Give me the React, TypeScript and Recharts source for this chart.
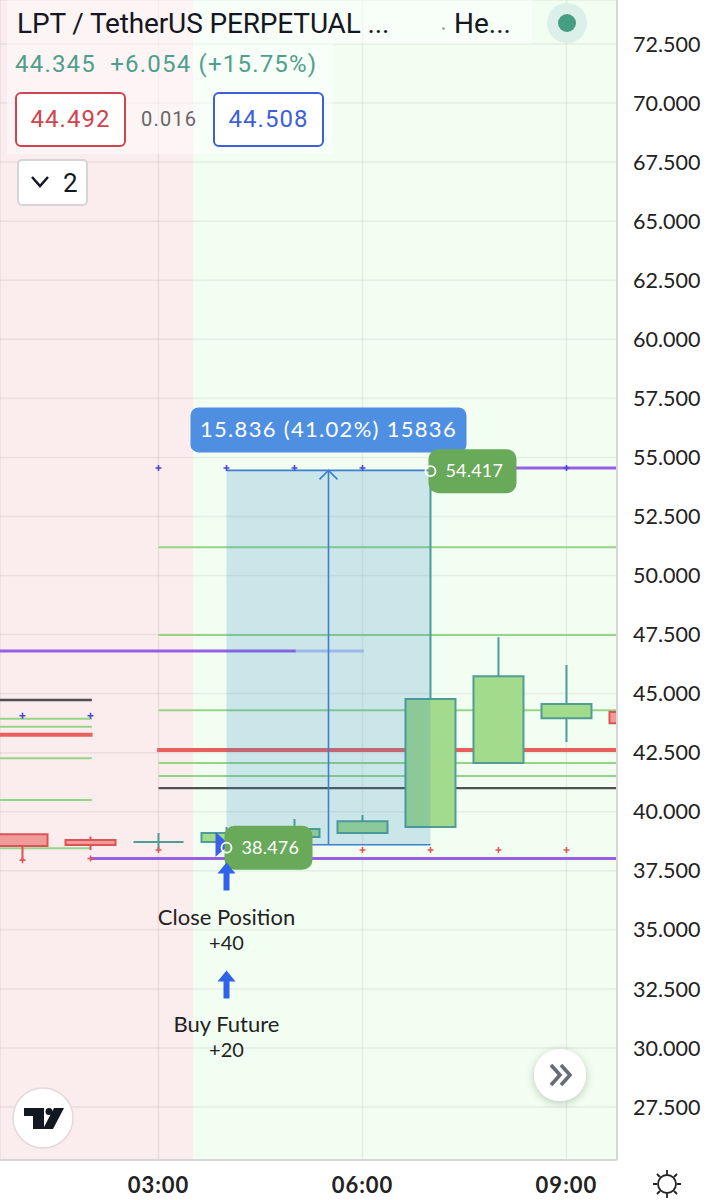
import * as React from "react";
import {
  Bar,
  CartesianGrid,
  ComposedChart,
  ReferenceArea,
  ReferenceDot,
  ReferenceLine,
  Scatter,
  XAxis,
  YAxis,
} from "recharts";

const FONT = "Lato, 'Open Sans', sans-serif";

// candles, one per hour on the time axis
const HOURS = [1, 2, 3, 4, 5, 6, 7, 8, 9, 10];
const OPENS = [39.05, 38.8, 38.72, 38.72, 38.93, 39.1, 39.35, 42.06, 43.96, 44.22];
const CLOSES = [38.55, 38.59, 38.72, 39.1, 39.27, 39.6, 44.77, 45.74, 44.56, 43.75];
const HIGHS = [39.05, 38.95, 39.1, 39.35, 39.69, 39.86, 54.46, 47.39, 46.21, 44.22];
const LOWS = [37.95, 38.38, 38.38, 38.72, 38.93, 39.1, 39.35, 42.06, 42.95, 43.75];

const X_TICKS = [3, 6, 9];
const Y_TICKS = [
  27.5, 30, 32.5, 35, 37.5, 40, 42.5, 45, 47.5, 50, 52.5, 55, 57.5, 60, 62.5, 65, 67.5, 70, 72.5,
];

// levels: [from hour, to hour, price]
const X_MIN = 0.669;
const X_MAX = 9.743;
const Y_MIN = 25.256;
const Y_MAX = 74.363;
const GREEN_LEVELS = [
  [3, X_MAX, 51.2],
  [3, X_MAX, 47.48],
  [3, X_MAX, 44.3],
  [3, X_MAX, 42.06],
  [3, X_MAX, 41.51],
  [X_MIN, 2.02, 43.94],
  [X_MIN, 2.02, 43.6],
  [X_MIN, 2.02, 42.26],
  [X_MIN, 2.02, 40.5],
  [X_MIN, 2, 38.45],
];
const RED_LEVELS = [
  [2.98, X_MAX, 42.61],
  [X_MIN, 2.03, 43.26],
];
const DARK_LEVELS = [
  [3, X_MAX, 41.0],
  [X_MIN, 2.02, 44.73],
];
const PURPLE_LEVELS = [
  [X_MIN, 5.02, 46.8],
  [7, X_MAX, 54.55],
  [2, X_MAX, 38.02],
];
const FADED_LEVELS = [[5.02, 6.02, 46.8]];

const BLUE_MARKS = [
  [1, 44.06],
  [2, 44.06],
  [3, 54.55],
  [4, 54.55],
  [5, 54.55],
  [6, 54.55],
  [9, 54.55],
];
const RED_MARKS = [
  [1, 37.95],
  [2, 38.02],
  [3, 38.38],
  [6, 38.38],
  [7, 38.38],
  [8, 38.38],
  [9, 38.38],
];

// measured move
const MEASURE_FROM = 4;
const MEASURE_TO = 7;
const MEASURE_LOW = 38.6;
const MEASURE_HIGH = 54.45;
const MEASURE_MID = 5.5;
const ENTRY_PRICE = 38.476;
const EXIT_PRICE = 54.417;
const SESSION_SPLIT = 3.507;

const candleRows = HOURS.map((hour, i) => ({
  hour,
  range: [LOWS[i], HIGHS[i]],
  open: OPENS[i],
  close: CLOSES[i],
}));
const toMarks = (marks: number[][]) => marks.map(([hour, price]) => ({ hour, price }));

function Candle(props: any) {
  const { x, y, width, height, payload } = props;
  const { open, close, range } = payload;
  const up = close >= open;
  const stroke = up ? "#4f9d94" : "#dd5257";
  const fill = up ? "#a3db8d" : "#f09a9a";
  const span = range[1] - range[0];
  const perUnit = span > 0 ? Math.abs(height) / span : 0;
  const top = Math.min(y, y + height);
  const bodyTop = top + (range[1] - Math.max(open, close)) * perUnit;
  const bodyBottom = top + (range[1] - Math.min(open, close)) * perUnit;
  const mid = x + width / 2;
  return (
    <g>
      <line x1={mid} x2={mid} y1={top} y2={top + Math.abs(height)} stroke={stroke} strokeWidth={2} />
      {/* a path and not a rect, so a flat candle still shows its line */}
      <path
        d={`M${x + 1} ${bodyTop}H${x + width - 1}V${bodyBottom}H${x + 1}Z`}
        fill={fill}
        stroke={stroke}
        strokeWidth={2}
      />
    </g>
  );
}

const plusMark = (color: string) => (props: any) => {
  const { cx, cy } = props;
  return (
    <path
      d={`M${cx - 3} ${cy}H${cx + 3}M${cx} ${cy - 3}V${cy + 3}`}
      stroke={color}
      strokeWidth={1.6}
      fill="none"
    />
  );
};

const levelLines = (levels: number[][], color: string, width: number, z: number) =>
  levels.map(([from, to, price]) => (
    <ReferenceLine
      key={`${color}-${from}-${price}`}
      segment={[
        { x: from, y: price },
        { x: to, y: price },
      ]}
      stroke={color}
      strokeWidth={width}
      ifOverflow="hidden"
      zIndex={z}
    />
  ));

const pricePill = (text: string) => (props: any) => {
  const { cx, cy } = props;
  return (
    <g>
      <rect x={cx - 2} y={cy - 22} width={88} height={44} rx={10} fill="#68aa59" />
      <circle cx={cx} cy={cy} r={5} fill="none" stroke="#fff" strokeWidth={1.8} />
      <text x={cx + 15} y={cy + 6} fill="#fff" fontSize={18} fontFamily={FONT} letterSpacing={0.2}>
        {text}
      </text>
    </g>
  );
};

const moveLabel = (props: any) => {
  const { cx, cy } = props;
  return (
    <g>
      <rect x={cx - 138} y={cy - 63} width={276} height={45} rx={8} fill="#4f8fe2" />
      <text x={cx} y={cy - 33} fill="#fff" fontSize={22} fontFamily={FONT} textAnchor="middle" letterSpacing={1.3}>
        15.836 (41.02%) 15836
      </text>
    </g>
  );
};

const moveArrowHead = (props: any) => {
  const { cx, cy } = props;
  return (
    <path
      d={`M${cx - 9} ${cy + 9}L${cx} ${cy}L${cx + 9} ${cy + 9}`}
      stroke="#3f7fd0"
      strokeWidth={1.6}
      fill="none"
    />
  );
};

const entryFlag = (props: any) => {
  const { cx, cy } = props;
  return <path d={`M${cx - 11} ${cy - 13}L${cx + 3} ${cy}L${cx - 11} ${cy + 12}Z`} fill="#3b5fe6" />;
};

const tradeNote = (title: string, amount: string) => (props: any) => {
  const { cx, cy } = props;
  return (
    <g fontFamily={FONT} fill="#222" textAnchor="middle">
      <path d={`M${cx} ${cy}l-9 11h6v17h6v-17h6z`} fill="#2f63e8" />
      <text x={cx} y={cy + 62} fontSize={22}>
        {title}
      </text>
      <text x={cx} y={cy + 87} fontSize={20}>
        {amount}
      </text>
    </g>
  );
};

function Header() {
  const box = (left: number, color: string): React.CSSProperties => ({
    position: "absolute",
    left,
    top: 92,
    width: 111,
    height: 55,
    boxSizing: "border-box",
    border: `2px solid ${color}`,
    borderRadius: 6,
    background: "#fff",
    color,
    fontSize: 24,
    letterSpacing: 1,
    lineHeight: "51px",
    textAlign: "center",
  });
  const veil: React.CSSProperties = { position: "absolute", background: "rgba(255,255,255,0.45)" };
  return (
    <div style={{ position: "absolute", left: 0, top: 0, fontFamily: "Roboto, sans-serif" }}>
      <div style={{ ...veil, left: 7, top: 0, width: 525, height: 44 }} />
      <div style={{ ...veil, left: 7, top: 44, width: 326, height: 110 }} />
      <div style={{ position: "absolute", left: 17, top: 6, fontSize: 28, color: "#131722", whiteSpace: "nowrap", lineHeight: "36px", letterSpacing: -0.15 }}>
        LPT / TetherUS PERPETUAL ...
      </div>
      <div style={{ position: "absolute", left: 442, top: 27, width: 3, height: 3, borderRadius: 2, background: "#aaa" }} />
      <div style={{ position: "absolute", left: 454, top: 6, fontSize: 28, color: "#131722", whiteSpace: "nowrap", lineHeight: "36px" }}>
        He...
      </div>
      <div style={{ position: "absolute", left: 547, top: 3, width: 40, height: 40, borderRadius: "50%", background: "#dcefe8" }} />
      <div style={{ position: "absolute", left: 558, top: 14, width: 18, height: 18, borderRadius: "50%", background: "#459d82" }} />
      <div style={{ position: "absolute", left: 15, top: 49, fontSize: 24, color: "#4f9f8c", whiteSpace: "nowrap", lineHeight: "30px", letterSpacing: 1.2 }}>
        44.345&nbsp; +6.054 (+15.75%)
      </div>
      <div style={box(15, "#d0434f")}>44.492</div>
      <div style={{ position: "absolute", left: 141, top: 106, fontSize: 20, color: "#666", lineHeight: "26px", letterSpacing: 1.2 }}>0.016</div>
      <div style={box(213, "#3d5fd9")}>44.508</div>
      <div style={{ position: "absolute", left: 17, top: 159, width: 71, height: 47, boxSizing: "border-box", border: "2px solid #d4d4da", borderRadius: 5, background: "#fff" }}>
        <svg width={26} height={20} style={{ position: "absolute", left: 10, top: 12 }}>
          <path d="M3 4L11 13L19 4" stroke="#131722" strokeWidth={2.5} fill="none" />
        </svg>
        <span style={{ position: "absolute", left: 44, top: 7, fontSize: 26, lineHeight: "30px", color: "#131722" }}>2</span>
      </div>
    </div>
  );
}

function Overlays() {
  return (
    <svg width={719} height={1200} style={{ position: "absolute", left: 0, top: 0, pointerEvents: "none" }}>
      <defs>
        <filter id="btnShadow" x="-50%" y="-50%" width="200%" height="200%">
          <feDropShadow dx={0} dy={2} stdDeviation={4} floodColor="#000" floodOpacity={0.22} />
        </filter>
      </defs>
      <circle cx={560} cy={1075} r={26} fill="#fff" filter="url(#btnShadow)" />
      <path d="M551 1065l9 10l-9 10M561 1065l9 10l-9 10" stroke="#666b75" strokeWidth={3.6} fill="none" />
      <circle cx={43} cy={1118} r={30} fill="#fff" stroke="#e4d8da" strokeWidth={1.5} />
      <path d="M24 1108h20v21h-11v-13h-9z" fill="#131722" />
      <circle cx={49} cy={1111.5} r={3.5} fill="#131722" />
      <path d="M54 1108h10l-11 21h-10z" fill="#131722" />
      <g stroke="#222" strokeWidth={1.8} fill="none">
        <circle cx={667} cy={1184} r={9} />
        <path d="M667 1170v4M667 1194v4M653 1184h4M677 1184h4M657 1174l3 3M677 1174l-3 3M657 1194l3-3M677 1194l-3-3" />
      </g>
    </svg>
  );
}

export default function App() {
  const measureLine = { stroke: "#3f7fd0", strokeWidth: 1.6, zIndex: 450 };
  return (
    <div style={{ position: "absolute", left: 0, top: 0, width: 719, height: 1200, overflow: "hidden", background: "#fff" }}>
      <ComposedChart width={719} height={1200} data={candleRows} margin={{ top: 0, right: 0, bottom: 0, left: 0 }}>
        <ReferenceArea x1={X_MIN} x2={SESSION_SPLIT} y1={Y_MIN} y2={Y_MAX} fill="#fbeced" fillOpacity={1} stroke="none" ifOverflow="hidden" zIndex={-300} />
        <ReferenceArea x1={SESSION_SPLIT} x2={X_MAX} y1={Y_MIN} y2={Y_MAX} fill="#f2fef2" fillOpacity={1} stroke="none" ifOverflow="hidden" zIndex={-300} />
        <CartesianGrid stroke="rgba(60,70,70,0.08)" strokeWidth={1.5} />
        <XAxis
          type="number"
          dataKey="hour"
          domain={[X_MIN, X_MAX]}
          allowDataOverflow
          ticks={X_TICKS}
          height={40}
          tickLine={false}
          axisLine={{ stroke: "#d6d6d6", strokeWidth: 2 }}
          tickMargin={11}
          tick={{ fontSize: 22, fontWeight: 700, fill: "#222", fontFamily: FONT, letterSpacing: 1 }}
          tickFormatter={(h: number) => `0${h}:00`}
        />
        <YAxis
          type="number"
          orientation="right"
          domain={[Y_MIN, Y_MAX]}
          allowDataOverflow
          ticks={Y_TICKS}
          width={102}
          tickLine={false}
          axisLine={{ stroke: "#d6d6d6", strokeWidth: 2 }}
          tickMargin={10}
          tick={{ fontSize: 21.5, fill: "#222", fontFamily: FONT, textAnchor: "start" }}
          tickFormatter={(v: number) => v.toFixed(3)}
        />
        {levelLines(GREEN_LEVELS, "#94d685", 2, 100)}
        {levelLines(DARK_LEVELS, "#505050", 2.4, 100)}
        {levelLines(RED_LEVELS, "#e8605c", 4, 100)}
        {levelLines(PURPLE_LEVELS, "#9560e4", 3, 100)}
        {levelLines(FADED_LEVELS, "#9db6ec", 3, 400)}
        <Scatter data={toMarks(BLUE_MARKS)} dataKey="price" shape={plusMark("#4b44d6")} isAnimationActive={false} />
        <Scatter data={toMarks(RED_MARKS)} dataKey="price" shape={plusMark("#e05555")} isAnimationActive={false} />
        <Bar dataKey="range" barSize={52} shape={<Candle />} isAnimationActive={false} />
        <ReferenceArea
          x1={MEASURE_FROM}
          x2={MEASURE_TO}
          y1={MEASURE_LOW}
          y2={MEASURE_HIGH}
          fill="#2b85c9"
          fillOpacity={0.2}
          stroke="none"
          zIndex={350}
        />
        <ReferenceLine segment={[{ x: MEASURE_FROM, y: MEASURE_HIGH }, { x: MEASURE_TO, y: MEASURE_HIGH }]} {...measureLine} />
        <ReferenceLine segment={[{ x: MEASURE_FROM, y: MEASURE_LOW }, { x: MEASURE_TO, y: MEASURE_LOW }]} {...measureLine} />
        <ReferenceLine segment={[{ x: MEASURE_MID, y: MEASURE_LOW }, { x: MEASURE_MID, y: MEASURE_HIGH }]} {...measureLine} />
        <ReferenceDot x={MEASURE_MID} y={MEASURE_HIGH} r={0} shape={moveArrowHead} zIndex={700} />
        <ReferenceDot x={MEASURE_MID} y={MEASURE_HIGH} r={0} shape={moveLabel} zIndex={700} />
        <ReferenceDot x={MEASURE_TO} y={EXIT_PRICE} r={0} shape={pricePill("54.417")} zIndex={700} />
        <ReferenceDot x={MEASURE_FROM} y={38.6} r={0} shape={entryFlag} zIndex={700} />
        <ReferenceDot x={MEASURE_FROM} y={ENTRY_PRICE} r={0} shape={pricePill("38.476")} zIndex={700} />
        <ReferenceDot x={MEASURE_FROM} y={37.85} r={0} shape={tradeNote("Close Position", "+40")} zIndex={700} />
        <ReferenceDot x={MEASURE_FROM} y={33.28} r={0} shape={tradeNote("Buy Future", "+20")} zIndex={700} />
      </ComposedChart>
      <Overlays />
      <Header />
    </div>
  );
}
